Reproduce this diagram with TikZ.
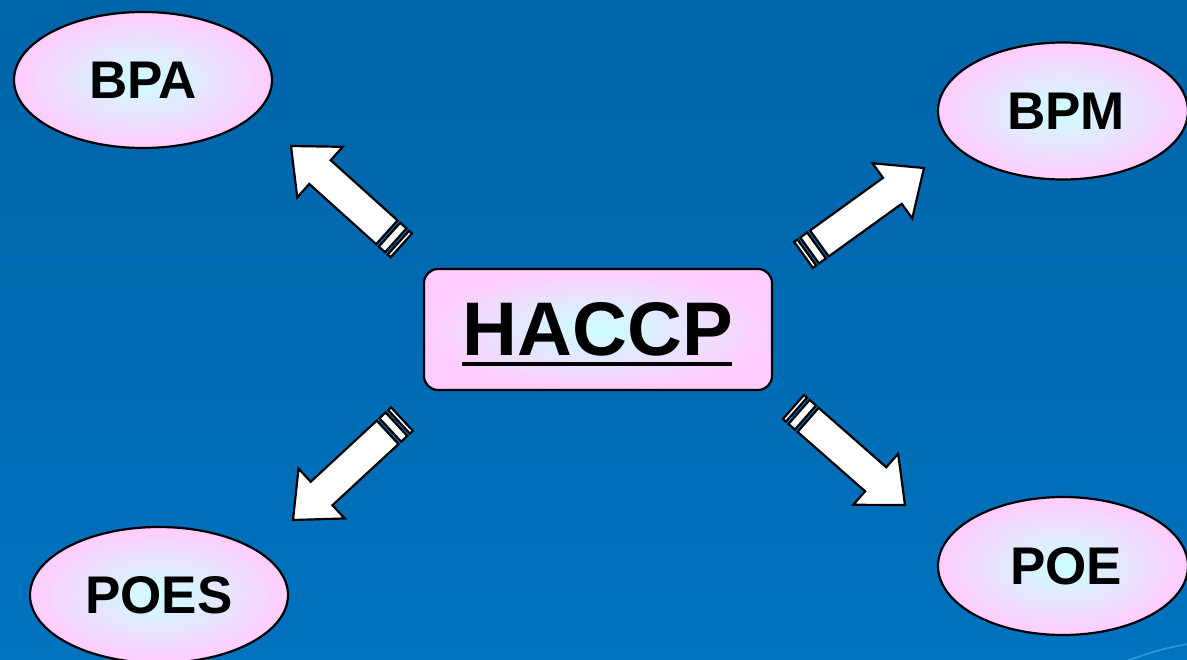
\documentclass[tikz,border=0pt]{standalone}
\usepackage{fontspec}
\setmainfont{Liberation Sans}
\usetikzlibrary{shapes.geometric}
\definecolor{bgtop}{RGB}{0,100,168}
\definecolor{bgbot}{RGB}{0,114,190}
\definecolor{pinkish}{RGB}{255,204,255}
\definecolor{cyanish}{RGB}{204,255,255}
\definecolor{glint}{RGB}{40,150,230}
\tikzset{
  bubble/.style={ellipse, draw=black, line width=2.2pt, inner sep=0pt,
    inner color=cyanish, outer color=pinkish,
    font=\fontsize{53}{53}\selectfont\bfseries},
  centerbox/.style={rectangle, rounded corners=14pt, draw=black, line width=2.2pt,
    inner color=cyanish, outer color=pinkish, inner sep=0pt,
    minimum width=348pt, minimum height=121pt,
    font=\fontsize{76}{76}\selectfont\bfseries},
  blockbody/.style={fill=white, draw=black, line width=2.2pt, line join=miter},
}
% block arrow whose tip sits at the origin, pointing along +x
\newcommand\blockarrowshape{%
  \draw[blockbody] (0,0) -- (-39,34) -- (-39,16) -- (-129,16) -- (-129,-16)
        -- (-39,-16) -- (-39,-34) -- cycle;
  \draw[blockbody] (-132.5,-16) rectangle (-141,16);
  \draw[blockbody] (-144.5,-16) rectangle (-148.5,16);
}
\begin{document}
\begin{tikzpicture}[x=1pt,y=-1pt]
  % backdrop
  \shade[top color=bgtop, bottom color=bgbot] (0,0) rectangle (1187,660);
  \useasboundingbox (0,0) rectangle (1187,660);
  \draw[glint, line width=1.8pt] (1127,661) .. controls (1150,652) and (1170,647) .. (1188,644);

  % nodes
  \node[centerbox] (haccp) at (598,329.5) {HACCP};
  \fill[black] (462,362) rectangle (732,366.5);

  \begin{scope}
    \clip (0,0) rectangle (1187,660);
    \node[bubble, minimum width=258pt, minimum height=136pt] (bpa) at (143,80) {BPA};
    \node[bubble, minimum width=250pt, minimum height=137pt] (bpm) at (1063,111) {\hspace*{6pt}BPM};
    \node[bubble, minimum width=258pt, minimum height=136pt] (poes) at (159,595) {POES};
    \node[bubble, minimum width=250pt, minimum height=138pt] (poe) at (1063,566) {\hspace*{6pt}POE};
  \end{scope}

  % block arrows from the centre box towards each bubble
  \coordinate (tipA) at (291,146);
  \coordinate (tipB) at (924,168);
  \coordinate (tipC) at (293,520);
  \coordinate (tipD) at (905,505);
  \begin{scope}[shift={(tipA)}, rotate=138]\blockarrowshape\end{scope}
  \begin{scope}[shift={(tipB)}, rotate=35.8]\blockarrowshape\end{scope}
  \begin{scope}[shift={(tipC)}, rotate=222.8]\blockarrowshape\end{scope}
  \begin{scope}[shift={(tipD)}, rotate=-41.3]\blockarrowshape\end{scope}
\end{tikzpicture}
\end{document}
